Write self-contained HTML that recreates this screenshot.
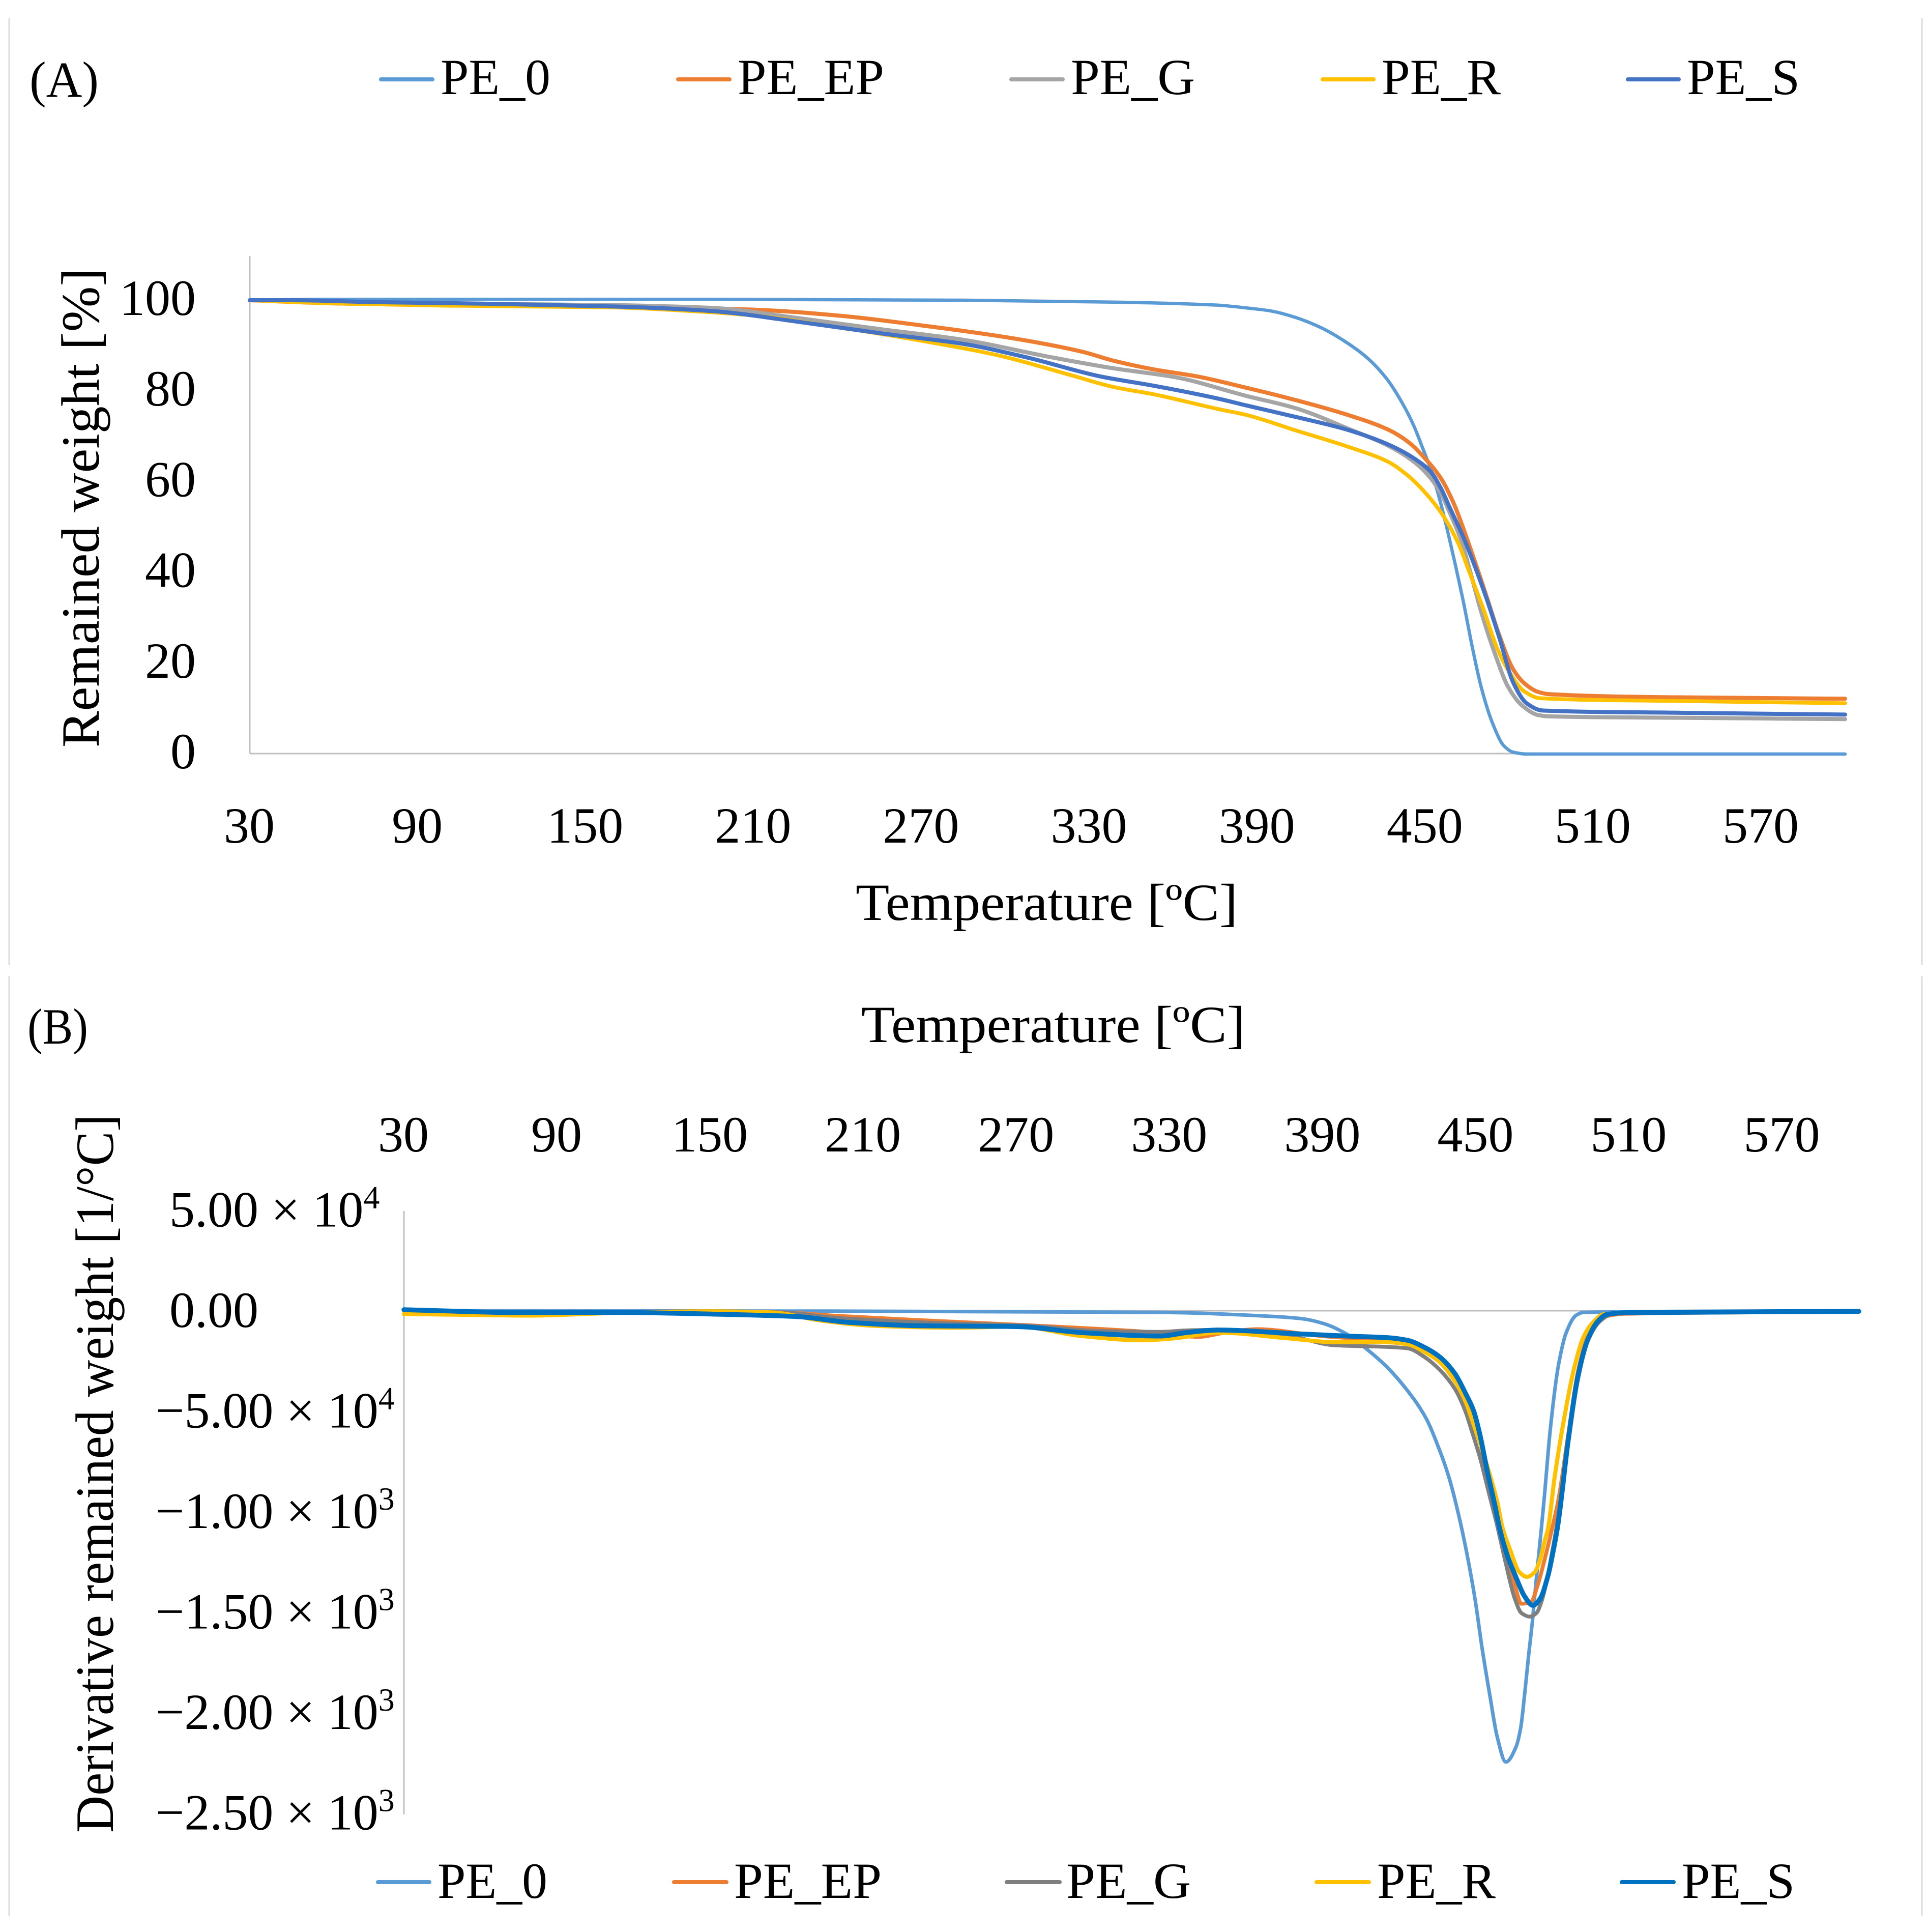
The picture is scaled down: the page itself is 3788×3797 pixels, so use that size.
<!DOCTYPE html>
<html lang="en">
<head>
<meta charset="utf-8">
<title>Thermogravimetric curves of PE samples</title>
<style>
html,body{margin:0;padding:0;background:#fff;}
svg{display:block;}
text{font-family:"Liberation Serif",serif;fill:#000;font-size:100px;}
</style>
</head>
<body>
<svg id="figure" xmlns="http://www.w3.org/2000/svg" width="3788" height="3797" viewBox="0 0 3788 3797">
  <rect x="0" y="0" width="3788" height="3797" fill="#ffffff"/>

  <line x1="18" y1="36" x2="18" y2="1897" stroke="#dcdcdc" stroke-width="3"/>
  <line x1="3778" y1="36" x2="3778" y2="1897" stroke="#dcdcdc" stroke-width="3"/>
  <line x1="18" y1="1918" x2="18" y2="3766" stroke="#dcdcdc" stroke-width="3"/>
  <line x1="3778" y1="1918" x2="3778" y2="3766" stroke="#dcdcdc" stroke-width="3"/>

  <g id="panel-a">
    <text x="58" y="190" textLength="136" lengthAdjust="spacingAndGlyphs">(A)</text>
    <g>
      <line x1="749" y1="156" x2="850" y2="156" stroke="#5b9bd5" stroke-width="8" stroke-linecap="round"/>
      <text x="866" y="185" textLength="216" lengthAdjust="spacingAndGlyphs">PE_0</text>
      <line x1="1333" y1="156" x2="1434" y2="156" stroke="#ed7d31" stroke-width="8" stroke-linecap="round"/>
      <text x="1450" y="185" textLength="288" lengthAdjust="spacingAndGlyphs">PE_EP</text>
      <line x1="1988" y1="156" x2="2089" y2="156" stroke="#a5a5a5" stroke-width="8" stroke-linecap="round"/>
      <text x="2105" y="185" textLength="244" lengthAdjust="spacingAndGlyphs">PE_G</text>
      <line x1="2600" y1="156" x2="2700" y2="156" stroke="#ffc000" stroke-width="8" stroke-linecap="round"/>
      <text x="2716" y="185" textLength="234" lengthAdjust="spacingAndGlyphs">PE_R</text>
      <line x1="3200" y1="156" x2="3300" y2="156" stroke="#4472c4" stroke-width="8" stroke-linecap="round"/>
      <text x="3316" y="185" textLength="222" lengthAdjust="spacingAndGlyphs">PE_S</text>
    </g>
    <line x1="491" y1="503" x2="491" y2="1481" stroke="#bfbfbf" stroke-width="3"/>
    <line x1="491" y1="1481" x2="3627" y2="1481" stroke="#bfbfbf" stroke-width="3"/>
    <g id="a-series"></g>
    <g id="a-ticks"></g>
    <text transform="translate(194,1469) rotate(-90)" x="0" y="0" style="font-size:106px" textLength="942" lengthAdjust="spacingAndGlyphs">Remained weight [%]</text>
    <text x="1682" y="1808" style="font-size:103px" textLength="751" lengthAdjust="spacingAndGlyphs">Temperature [ºC]</text>
  </g>

  <g id="panel-b">
    <text x="54" y="2051" textLength="119" lengthAdjust="spacingAndGlyphs">(B)</text>
    <text x="1693" y="2048" style="font-size:103px" textLength="755" lengthAdjust="spacingAndGlyphs">Temperature [ºC]</text>
    <line x1="794" y1="2380" x2="794" y2="3566" stroke="#bfbfbf" stroke-width="3"/>
    <line x1="794" y1="2576" x2="3654" y2="2576" stroke="#bfbfbf" stroke-width="3"/>
    <g id="b-series"></g>
    <g id="b-ticks"></g>
    <text transform="translate(222,3602) rotate(-90)" x="0" y="0" style="font-size:106px" textLength="1412" lengthAdjust="spacingAndGlyphs">Derivative remained weight [1/°C]</text>
    <g>
      <line x1="743" y1="3699" x2="844" y2="3699" stroke="#5b9bd5" stroke-width="8" stroke-linecap="round"/>
      <text x="860" y="3730" textLength="216" lengthAdjust="spacingAndGlyphs">PE_0</text>
      <line x1="1325" y1="3699" x2="1428" y2="3699" stroke="#ed7d31" stroke-width="8" stroke-linecap="round"/>
      <text x="1443" y="3730" textLength="290" lengthAdjust="spacingAndGlyphs">PE_EP</text>
      <line x1="1979" y1="3699" x2="2083" y2="3699" stroke="#7f7f7f" stroke-width="8" stroke-linecap="round"/>
      <text x="2096" y="3730" textLength="245" lengthAdjust="spacingAndGlyphs">PE_G</text>
      <line x1="2588" y1="3699" x2="2691" y2="3699" stroke="#ffc000" stroke-width="8" stroke-linecap="round"/>
      <text x="2707" y="3730" textLength="233" lengthAdjust="spacingAndGlyphs">PE_R</text>
      <line x1="3188" y1="3699" x2="3290" y2="3699" stroke="#0070c0" stroke-width="8" stroke-linecap="round"/>
      <text x="3306" y="3730" textLength="222" lengthAdjust="spacingAndGlyphs">PE_S</text>
    </g>
  </g>
</svg>

<script>
// Shared temperature tick labels
const xTickLabels = [30, 90, 150, 210, 270, 330, 390, 450, 510, 570];

// Panel A: remained weight [%]
const aYTickLabels = [100, 80, 60, 40, 20, 0];

const aPe0Temps = [30,60,195.2,285.6,345.8,375.9,386,395.1,404.1,413.2,422.3,429.6,436.3,441.8,445.9,449,452,455.4,459.5,463.6,466.9,470,474.1,478.1,481.4,486.3,600];
const aPe0Weights = [100,100.2,100.2,100,99.5,98.9,98.3,97.6,96.1,93.8,90.5,87.1,82.6,77.3,72.3,67.5,62.6,55.5,45,33.5,23.2,14.6,6.6,1.7,0.3,-0.1,-0.1];

const aPeEpTemps = [30,60.1,100.3,160.5,190.7,210.3,240.4,270.5,300.6,327.7,338.3,353.3,368.4,386,404.1,422.3,436.9,444.2,450.2,455.6,460,465.4,471.6,476.5,481.4,485.4,490.3,494.3,540.4,600];
const aPeEpWeights = [100,99.3,98.9,98.6,98.2,97.9,96.6,94.4,91.8,88.6,86.7,84.7,83.2,80.7,77.9,74.7,71.4,68.6,64.9,60.7,55.4,46.5,35.2,26,18.6,15.5,13.6,13.1,12.4,12.1];

const aPeGTemps = [30,60.1,100.3,160.5,195.2,225.3,255.4,285.6,315.7,338.3,360.9,386,404.1,422.3,437.4,446.5,452,455.6,458.7,462.9,465.9,470,474.9,479.7,484.6,490.3,494.3,540.4,600];
const aPeGWeights = [100,99.7,99.3,98.9,98.3,96.1,93.6,91.2,87.5,85,83,78.9,76.1,71.7,67.7,64.1,60.7,57.4,53.2,46.9,40.5,31.2,22,14.6,10.6,8.5,8.2,7.9,7.6];

const aPeRTemps = [30,60.1,100.3,160.5,190.7,210.3,240.4,270.5,297.6,323.2,338.3,353.3,375.9,386,404.1,422.3,436.9,444.2,450.2,455.6,461.7,465.9,470.8,475.7,480.5,485.4,491.1,540.4,600];
const aPeRWeights = [100,99.3,98.8,98.4,97.5,96.6,94,91,87.8,83.5,80.9,79.2,76,74.7,71.2,67.7,64.3,61.1,57.4,53.2,46.5,39.8,31.8,23.2,17.5,13.7,12.2,11.6,11.1];

const aPeSTemps = [30,45,73,117,161,195.2,225.3,255.4,285.6,308.2,333.8,353.3,375.9,386,404.1,422.3,437.4,446.5,452,455.6,458.7,464.1,471.6,476.5,481.4,486.2,491.9,540.4,600];
const aPeSWeights = [100,100,99.6,99.2,98.6,97.6,95.3,92.7,90.3,87.3,83.2,81.1,78.3,76.8,74.2,71.4,68,64.9,62.1,58.5,54.3,47,34.7,25.5,15.7,11.1,9.5,9,8.6];

// Panel B: derivative remained weight [1/°C]
const bYTickValues = [500, 0, -500, -1000, -1500, -2000, -2500];
const bYTickMantissas = ["5.00 × 10", "0.00", "−5.00 × 10", "−1.00 × 10", "−1.50 × 10", "−2.00 × 10", "−2.50 × 10"];
const bYTickExponents = ["4", "", "4", "3", "3", "3", "3"];

const bPe0Temps = [30,100,200,325,370,382,390.6,398.6,407.3,415.2,423.2,430.4,435.2,439.2,443.2,446.7,449.7,452.3,455.7,458.3,461.7,465.7,467.6,469,470.7,472.1,473.7,475.7,476.7,479.2,482.3,485.3,489.2,492.2,600];
const bPe0Values = [0,-1,-2,-8,-28,-40,-65,-111,-192,-281,-398,-534,-676,-820,-1015,-1225,-1440,-1670,-1934,-2119,-2245,-2170,-2069,-1917,-1707,-1547,-1327,-1074,-940,-580,-273,-111,-23,-8,0];

const bPeEpTemps = [30,52,79.8,110.3,148.3,178.6,199.2,237.3,275.5,321,341.3,351.6,364.4,389.6,401.9,415.2,423.2,429.8,435.8,441.8,445.8,449.1,451.7,454.3,457.7,458.7,461.9,465.3,467.8,471.7,474.3,477,480,482.3,486.2,490,493.8,498.4,503,509,600];
const bPeEpValues = [-16,-20,-22,-8,-3,-8,-25,-50,-73,-105,-130,-109,-92,-126,-138,-150,-165,-200,-250,-335,-430,-525,-660,-825,-1000,-1074,-1240,-1370,-1458,-1446,-1360,-1233,-1074,-940,-610,-300,-130,-45,-22,-15,-5];

const bPeGTemps = [30,52,80.3,110.5,148.3,178.6,198.8,237,275.1,301.2,326.3,336.4,349.4,376.6,394.6,415.2,423.2,429.8,435.8,441.8,445.8,448.4,451.7,455,458.4,461.7,465.1,467.8,471.1,473.7,475.7,477.7,480,481.6,486.2,490,493.8,498.4,503,509,600];
const bPeGValues = [0,-8,-14,-7,-2,-8,-35,-60,-75,-100,-105,-98,-95,-125,-172,-180,-187,-230,-294,-390,-499,-600,-737,-904,-1074,-1258,-1428,-1504,-1522,-1504,-1446,-1345,-1190,-1074,-645,-340,-152,-55,-18,-10,-3];

const bPeRTemps = [30,52,79.8,110.3,148.3,173.6,194,214.4,244.9,270.3,295.7,318.6,331.3,349.1,377,395.3,415.2,423.2,429.8,435.8,441.8,445.8,449.1,452.3,455.7,458.5,460.3,463.7,467,470,473,475,477,478.2,480.8,484.6,488.4,492.2,496,499.9,505.1,600];
const bPeRValues = [-16,-20,-24,-12,-3,-8,-50,-75,-84,-79,-126,-147,-138,-109,-138,-157,-157,-167,-205,-255,-352,-448,-567,-686,-828,-960,-1074,-1200,-1301,-1324,-1301,-1243,-1142,-1085,-830,-532,-289,-129,-56,-18,-13,-3];

const bPeSTemps = [30,52,72.2,110.3,148.3,183.9,204.3,232.2,270.3,295.7,326.2,336.4,349.1,382,401.9,415.2,423.2,429.8,435.8,441.8,445.8,449.1,451.7,454.3,457.7,459.1,462.3,465.7,469,472.3,475,478.2,480.2,482,486.2,490,493.8,497.6,501.4,509,600];
const bPeSValues = [5,-3,-9,-8,-16,-29,-58,-75,-79,-109,-126,-109,-96,-116,-127,-134,-147,-182,-230,-314,-408,-499,-625,-790,-985,-1074,-1218,-1327,-1420,-1466,-1436,-1319,-1200,-1074,-640,-322,-144,-55,-18,-10,-3];

const SVG_NS = "http://www.w3.org/2000/svg";

// Axis functions
function xA(t) { return 491 + (t - 30) * (3627 - 491) / (600 - 30); }
function yA(w) { return 1481 - w * 8.91; }
function xB(t) { return 794 + (t - 30) * (3654 - 794) / (600 - 30); }
function yB(v) { return 2576 - v * 197.5 / 500; }

// Monotone cubic path through the supplied points
function smoothPath(xs, ys) {
  const n = xs.length;
  const d = [];
  for (let i = 0; i < n - 1; i++) d.push((ys[i + 1] - ys[i]) / (xs[i + 1] - xs[i]));
  const m = [d[0]];
  for (let i = 1; i < n - 1; i++) {
    if (d[i - 1] * d[i] <= 0) { m.push(0); continue; }
    const h0 = xs[i] - xs[i - 1];
    const h1 = xs[i + 1] - xs[i];
    const w1 = 2 * h1 + h0;
    const w2 = h1 + 2 * h0;
    m.push((w1 + w2) / (w1 / d[i - 1] + w2 / d[i]));
  }
  m.push(d[n - 2]);
  let path = "M" + xs[0].toFixed(1) + " " + ys[0].toFixed(1);
  for (let i = 0; i < n - 1; i++) {
    const h = (xs[i + 1] - xs[i]) / 3;
    path += "C" + (xs[i] + h).toFixed(1) + " " + (ys[i] + m[i] * h).toFixed(1) + " " +
      (xs[i + 1] - h).toFixed(1) + " " + (ys[i + 1] - m[i + 1] * h).toFixed(1) + " " +
      xs[i + 1].toFixed(1) + " " + ys[i + 1].toFixed(1);
  }
  return path;
}

function drawSeries(parent, name, temps, values, xFn, yFn, color, width) {
  const el = document.createElementNS(SVG_NS, "path");
  
  
  el.setAttribute("d", smoothPath(temps.map(xFn), values.map(yFn)));
  el.setAttribute("fill", "none");
  el.setAttribute("stroke", color);
  el.setAttribute("stroke-width", width);
  el.setAttribute("stroke-linejoin", "round");
  el.setAttribute("stroke-linecap", "round");
  parent.appendChild(el);
}

function drawLabel(parent, name, content, x, y, anchor) {
  const el = document.createElementNS(SVG_NS, "text");
  
  
  el.setAttribute("x", x);
  el.setAttribute("y", y);
  el.setAttribute("text-anchor", anchor);
  el.textContent = content;
  parent.appendChild(el);
  return el;
}

const aSeries = document.getElementById("a-series");
drawSeries(aSeries, "series-a-pe-0", aPe0Temps, aPe0Weights, xA, yA, "#5b9bd5", 6.5);
drawSeries(aSeries, "series-a-pe-ep", aPeEpTemps, aPeEpWeights, xA, yA, "#ed7d31", 8);
drawSeries(aSeries, "series-a-pe-g", aPeGTemps, aPeGWeights, xA, yA, "#a5a5a5", 8);
drawSeries(aSeries, "series-a-pe-r", aPeRTemps, aPeRWeights, xA, yA, "#ffc000", 7.5);
drawSeries(aSeries, "series-a-pe-s", aPeSTemps, aPeSWeights, xA, yA, "#4472c4", 8);

const bSeries = document.getElementById("b-series");
drawSeries(bSeries, "series-b-pe-0", bPe0Temps, bPe0Values, xB, yB, "#5b9bd5", 7);
drawSeries(bSeries, "series-b-pe-ep", bPeEpTemps, bPeEpValues, xB, yB, "#ed7d31", 7.5);
drawSeries(bSeries, "series-b-pe-g", bPeGTemps, bPeGValues, xB, yB, "#7f7f7f", 7.5);
drawSeries(bSeries, "series-b-pe-r", bPeRTemps, bPeRValues, xB, yB, "#ffc000", 8);
drawSeries(bSeries, "series-b-pe-s", bPeSTemps, bPeSValues, xB, yB, "#0070c0", 9.5);

const aTicks = document.getElementById("a-ticks");
xTickLabels.forEach(function (t) {
  drawLabel(aTicks, "panel-a-x-tick-label", String(t), xA(t) - 1, 1656, "middle");
});
aYTickLabels.forEach(function (w) {
  drawLabel(aTicks, "panel-a-y-tick-label", String(w), 385, yA(w) + 29, "end");
});

const bTicks = document.getElementById("b-ticks");
xTickLabels.forEach(function (t) {
  drawLabel(bTicks, "panel-b-x-tick-label", String(t), xB(t) - 1, 2263, "middle");
});
bYTickValues.forEach(function (v, i) {
  const mantissa = bYTickMantissas[i];
  const startX = mantissa.charAt(0) === "−" ? 306 : 333;
  const label = drawLabel(bTicks, "panel-b-y-tick-label", mantissa, startX, yB(v) + 32, "start");
  if (bYTickExponents[i]) {
    const sup = document.createElementNS(SVG_NS, "tspan");
    
    
    sup.setAttribute("dy", "-36");
    sup.style.fontSize = "64px";
    sup.textContent = bYTickExponents[i];
    label.appendChild(sup);
  }
});
</script>
</body>
</html>
